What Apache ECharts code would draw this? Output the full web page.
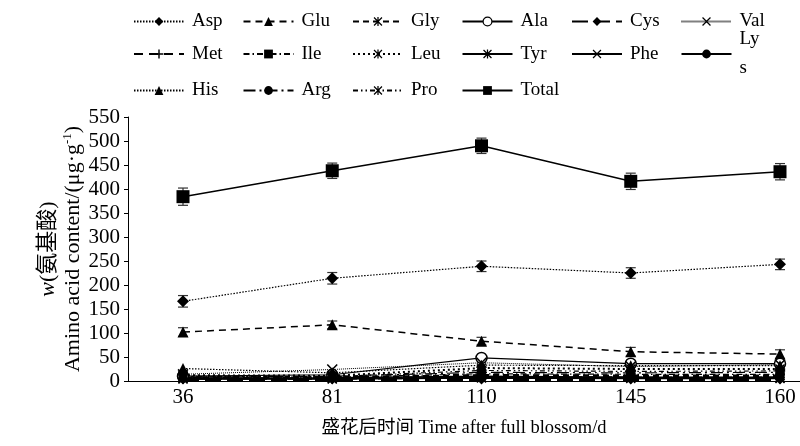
<!DOCTYPE html>
<html>
<head>
<meta charset="utf-8">
<script src="https://cdn.jsdelivr.net/npm/echarts@6/dist/echarts.min.js"></script>
<style>
  html, body { margin: 0; padding: 0; background: #fff; }
  #chart { width: 800px; height: 446px; }
</style>
</head>
<body>
<div id="chart"></div>
<script>
// dias após floração
const days = ['36', '81', '110', '145', '160'];

// teores de aminoácidos (µg/g)
const asp = [166, 214, 239, 225, 243];
const glu = [102, 117, 83, 61, 56];
const gly = [6, 7, 12, 11, 11];
const ala = [10, 13, 48, 36, 36];
const cys = [3, 3, 3, 3, 3];
const val = [14, 24, 38, 30, 34];
const met = [5, 5, 8, 7, 7];
const ile = [9, 8, 15, 14, 14];
const leu = [12, 11, 27, 25, 25];
const tyr = [4, 4, 6, 5, 5];
const phe = [5, 5, 8, 7, 6];
const lys = [6, 7, 10, 8, 8];
const his = [26, 17, 33, 32, 32];
const arg = [8, 10, 18, 17, 18];
const pro = [10, 9, 22, 20, 21];
const total = [384, 438, 490, 416, 436];

// desvios (barras de erro)
const totalErr = [18, 16, 16, 17, 17];
const aspErr = [12, 12, 11, 11, 11];
const gluErr = [9, 8, 8, 9, 9];

const yTicks = { min: 0, max: 550, interval: 50 };

const FONT = '"Liberation Serif", "Noto Sans CJK SC", serif';
const X_PATH = 'path://M0,1 L1,0 L5,4 L9,0 L10,1 L6,5 L10,9 L9,10 L5,6 L1,10 L0,9 L4,5 Z';
const PLUS_PATH = 'path://M4.2,0 H5.8 V4.2 H10 V5.8 H5.8 V10 H4.2 V5.8 H0 V4.2 H4.2 Z';
const STAR_PATH = 'path://M0,1 L1,0 L5,4 L9,0 L10,1 L6,5 L10,9 L9,10 L5,6 L1,10 L0,9 L4,5 Z M4.3,0 H5.7 V10 H4.3 Z';

function linha(name, data, symbol, size, width, type) {
  const vazio = symbol === 'emptyCircle';
  return {
    name: name,
    type: 'line',
    xAxisIndex: 1,
    yAxisIndex: 1,
    data: data,
    symbol: vazio ? 'circle' : symbol,
    symbolSize: size,
    showAllSymbol: true,
    lineStyle: { color: '#000', width: width, type: type },
    itemStyle: { color: vazio ? '#fff' : '#000', borderColor: '#000', borderWidth: vazio ? 1.5 : 0 },
    emphasis: { disabled: true },
    z: 3
  };
}

function erro(values, errs) {
  return {
    type: 'custom',
    xAxisIndex: 1,
    yAxisIndex: 1,
    data: values.map((v, i) => [i, v, errs[i]]),
    renderItem: function (params, api) {
      const x = api.value(0), v = api.value(1), e = api.value(2);
      const hi = api.coord([x, v + e]);
      const lo = api.coord([x, v - e]);
      const st = { stroke: '#333', lineWidth: 1.2 };
      return {
        type: 'group',
        children: [
          { type: 'line', shape: { x1: hi[0], y1: hi[1], x2: lo[0], y2: lo[1] }, style: st },
          { type: 'line', shape: { x1: hi[0] - 5, y1: hi[1], x2: hi[0] + 5, y2: hi[1] }, style: st },
          { type: 'line', shape: { x1: lo[0] - 5, y1: lo[1], x2: lo[0] + 5, y2: lo[1] }, style: st }
        ]
      };
    },
    z: 2,
    silent: true
  };
}

function legenda(top, names) {
  return {
    top: top,
    left: 128,
    width: 690,
    itemWidth: 50,
    itemHeight: 11,
    itemGap: 6.5,
    data: names.map(n => n === 'Ala'
      ? { name: n, itemStyle: { color: '#fff', borderColor: '#000', borderWidth: 1.2 } }
      : n),
    selectedMode: false,
    formatter: n => n === 'Lys' ? 'Ly\ns' : n,
    textStyle: { fontFamily: FONT, fontSize: 19, color: '#000', width: 44, padding: [0, 0, 0, 3], lineHeight: 29 }
  };
}

const chart = echarts.init(document.getElementById('chart'));

chart.setOption({
  backgroundColor: '#fff',
  animation: false,
  legend: [
    legenda(2, ['Asp', 'Glu', 'Gly', 'Ala', 'Cys', 'Val']),
    legenda(20, ['Met', 'Ile', 'Leu', 'Tyr', 'Phe', 'Lys']),
    legenda(71, ['His', 'Arg', 'Pro', 'Total'])
  ],
  grid: [
    { left: 128, right: 0, top: 117, bottom: 65 },
    { left: 183, right: 20, top: 117, bottom: 65 }
  ],
  xAxis: [
    {
      gridIndex: 0,
      type: 'value',
      min: 0,
      max: 1,
      axisLine: { show: true, lineStyle: { color: '#000', width: 1 } },
      axisTick: { show: false },
      axisLabel: { show: false },
      splitLine: { show: false },
      name: '盛花后时间 Time after full blossom/d',
      nameLocation: 'middle',
      nameGap: 38,
      nameTextStyle: { fontFamily: FONT, fontSize: 18.5, color: '#000' }
    },
    {
      gridIndex: 1,
      type: 'category',
      boundaryGap: false,
      data: days,
      axisLine: { show: false },
      axisTick: { show: false },
      axisLabel: { fontFamily: FONT, fontSize: 21, color: '#000', margin: 6 }
    }
  ],
  yAxis: [
    {
      gridIndex: 0,
      type: 'value',
      min: yTicks.min,
      max: yTicks.max,
      interval: yTicks.interval,
      axisLine: { show: true, lineStyle: { color: '#000', width: 1 } },
      axisTick: { show: true, length: 4, lineStyle: { color: '#000' } },
      axisLabel: { fontFamily: FONT, fontSize: 21, color: '#000', margin: 8 },
      splitLine: { show: false },
      name: '{i|w}(氨基酸)\nAmino acid content/(μg·g{sup|-1})',
      nameLocation: 'middle',
      nameRotate: 90,
      nameGap: 42,
      nameMoveOverlap: false,
      nameTextStyle: {
        fontFamily: FONT, fontSize: 22, color: '#000', lineHeight: 25,
        rich: {
          i: { fontFamily: FONT, fontSize: 22, fontStyle: 'italic', color: '#000' },
          sup: { fontFamily: FONT, fontSize: 13, color: '#000', verticalAlign: 'top', padding: [0, 0, 9, 0] }
        }
      }
    },
    {
      gridIndex: 1,
      type: 'value',
      min: yTicks.min,
      max: yTicks.max,
      show: false
    }
  ],
  series: [
    erro(total, totalErr),
    erro(asp, aspErr),
    erro(glu, gluErr),
    linha('Asp', asp, 'diamond', 12, 1.2, [1.5, 1.5]),
    linha('Glu', glu, 'triangle', 11, 1.5, [7, 5]),
    linha('Gly', gly, STAR_PATH, 10, 2.5, [6, 4]),
    linha('Ala', ala, 'emptyCircle', 11, 1.2, 'solid'),
    linha('Cys', cys, 'diamond', 10, 3, [16, 6]),
    linha('Val', val, X_PATH, 11, 1, [1, 1]),
    linha('Met', met, PLUS_PATH, 9, 2.5, [9, 6]),
    linha('Ile', ile, 'rect', 9, 1.2, [6, 3, 1.5, 3]),
    linha('Leu', leu, STAR_PATH, 10, 2, [2, 3]),
    linha('Tyr', tyr, STAR_PATH, 10, 1.2, 'solid'),
    linha('Phe', phe, X_PATH, 10, 1.2, 'solid'),
    linha('Lys', lys, 'circle', 9, 1.5, 'solid'),
    linha('His', his, 'triangle', 11, 1.2, [1.5, 1.5]),
    linha('Arg', arg, 'none', 0, 1.2, [12, 4, 2, 4]),
    linha('Pro', pro, STAR_PATH, 10, 1.2, [5, 3, 1.5, 3, 1.5, 3]),
    linha('Total', total, 'rect', 13, 1.5, 'solid')
  ]
});
</script>
</body>
</html>
